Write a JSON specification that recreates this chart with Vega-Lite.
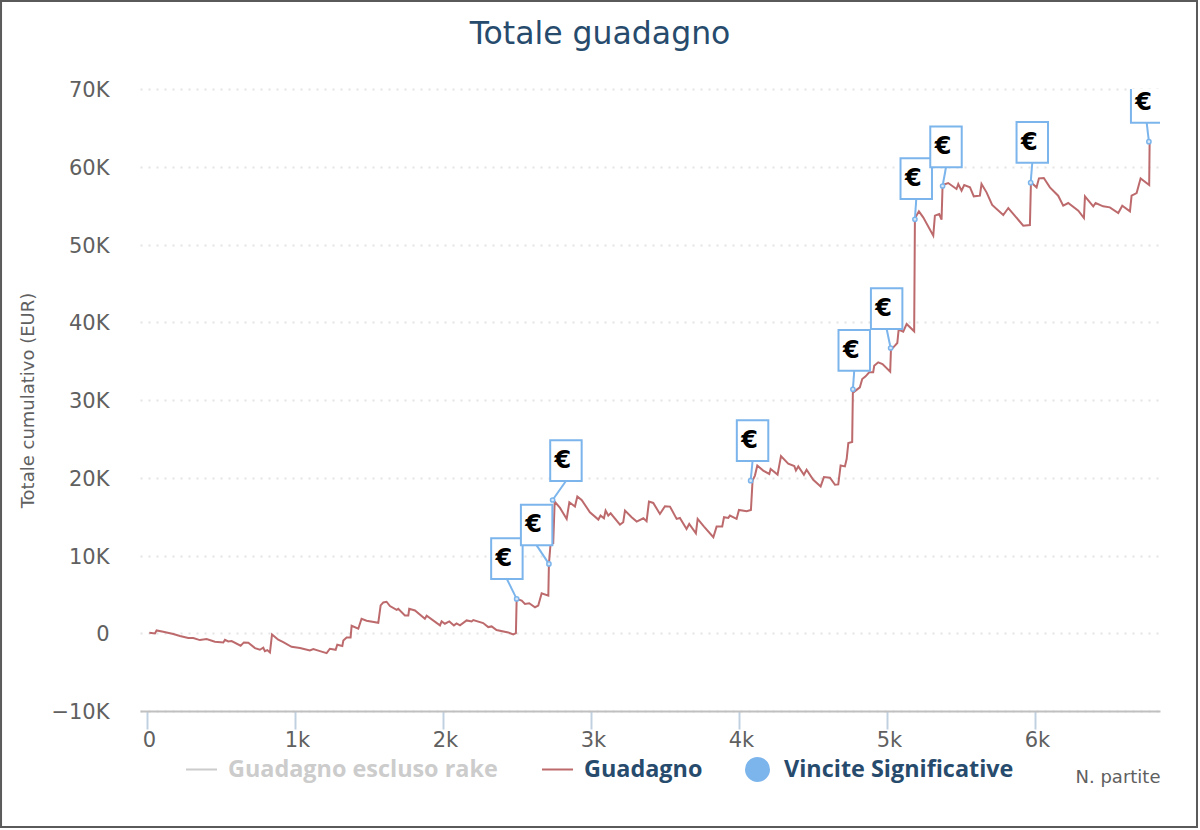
{
  "$schema": "https://vega.github.io/schema/vega-lite/v6.json",
  "description": "Totale guadagno: cumulative winnings over number of games, with significant wins flagged.",
  "width": 1020,
  "height": 622,
  "autosize": {"type": "none"},
  "padding": {"left": 140, "top": 89, "right": 40, "bottom": 119},
  "background": "white",
  "config": {"view": {"stroke": null}},
  "title": {
    "text": "Totale guadagno",
    "anchor": "middle",
    "dx": -50,
    "offset": -50,
    "font": "DejaVu Sans",
    "fontSize": 31.5,
    "fontWeight": "normal",
    "color": "#274b6d"
  },
  "datasets": {
    "guadagno": [
      {"partite": 16, "totale": 60}, {"partite": 54, "totale": -20}, {"partite": 65, "totale": 364}, {"partite": 110, "totale": 193},
      {"partite": 178, "totale": -107}, {"partite": 223, "totale": -364}, {"partite": 279, "totale": -622}, {"partite": 313, "totale": -622},
      {"partite": 358, "totale": -879}, {"partite": 403, "totale": -750}, {"partite": 459, "totale": -1093}, {"partite": 516, "totale": -1179},
      {"partite": 527, "totale": -836}, {"partite": 549, "totale": -1050}, {"partite": 572, "totale": -1007}, {"partite": 633, "totale": -1608},
      {"partite": 655, "totale": -1179}, {"partite": 685, "totale": -1222}, {"partite": 730, "totale": -1908}, {"partite": 763, "totale": -2122},
      {"partite": 786, "totale": -1865}, {"partite": 797, "totale": -2294}, {"partite": 813, "totale": -2165}, {"partite": 831, "totale": -2465},
      {"partite": 845, "totale": -150}, {"partite": 887, "totale": -836}, {"partite": 921, "totale": -1136}, {"partite": 977, "totale": -1736},
      {"partite": 1034, "totale": -1908}, {"partite": 1101, "totale": -2208}, {"partite": 1124, "totale": -2036}, {"partite": 1169, "totale": -2294},
      {"partite": 1214, "totale": -2551}, {"partite": 1236, "totale": -1993}, {"partite": 1275, "totale": -2122}, {"partite": 1286, "totale": -1479},
      {"partite": 1320, "totale": -1650}, {"partite": 1327, "totale": -922}, {"partite": 1349, "totale": -536}, {"partite": 1376, "totale": -536},
      {"partite": 1383, "totale": 965}, {"partite": 1428, "totale": 579}, {"partite": 1450, "totale": 1865}, {"partite": 1484, "totale": 1608},
      {"partite": 1563, "totale": 1350}, {"partite": 1579, "totale": 3580}, {"partite": 1597, "totale": 3965}, {"partite": 1619, "totale": 4051},
      {"partite": 1642, "totale": 3494}, {"partite": 1687, "totale": 3022}, {"partite": 1698, "totale": 3151}, {"partite": 1743, "totale": 2294},
      {"partite": 1766, "totale": 2294}, {"partite": 1772, "totale": 3151}, {"partite": 1811, "totale": 2937}, {"partite": 1878, "totale": 1865},
      {"partite": 1890, "totale": 2251}, {"partite": 1980, "totale": 1007}, {"partite": 1991, "totale": 1522}, {"partite": 2013, "totale": 1222},
      {"partite": 2043, "totale": 1522}, {"partite": 2074, "totale": 1007}, {"partite": 2092, "totale": 1265}, {"partite": 2115, "totale": 1007},
      {"partite": 2160, "totale": 1650}, {"partite": 2194, "totale": 1522}, {"partite": 2205, "totale": 1693}, {"partite": 2272, "totale": 1307},
      {"partite": 2306, "totale": 793}, {"partite": 2329, "totale": 879}, {"partite": 2362, "totale": 407}, {"partite": 2441, "totale": 107},
      {"partite": 2475, "totale": -150}, {"partite": 2493, "totale": 21}, {"partite": 2498, "totale": 4416},
      {"partite": 2532, "totale": 4201}, {"partite": 2554, "totale": 3772}, {"partite": 2583, "totale": 3858}, {"partite": 2622, "totale": 3344},
      {"partite": 2644, "totale": 3558}, {"partite": 2667, "totale": 5144}, {"partite": 2712, "totale": 4844}, {"partite": 2716, "totale": 8917},
      {"partite": 2727, "totale": 11489}, {"partite": 2745, "totale": 11575}, {"partite": 2755, "totale": 16934}, {"partite": 2791, "totale": 16119},
      {"partite": 2836, "totale": 14704}, {"partite": 2854, "totale": 16848}, {"partite": 2892, "totale": 16291}, {"partite": 2908, "totale": 17577},
      {"partite": 2937, "totale": 17148}, {"partite": 2993, "totale": 15562}, {"partite": 3050, "totale": 14619}, {"partite": 3065, "totale": 15133},
      {"partite": 3088, "totale": 14790}, {"partite": 3099, "totale": 15776}, {"partite": 3117, "totale": 15133}, {"partite": 3133, "totale": 15433},
      {"partite": 3196, "totale": 13976}, {"partite": 3218, "totale": 14276}, {"partite": 3230, "totale": 15776}, {"partite": 3275, "totale": 14919},
      {"partite": 3309, "totale": 14361}, {"partite": 3354, "totale": 14790}, {"partite": 3376, "totale": 14404}, {"partite": 3392, "totale": 16934},
      {"partite": 3421, "totale": 16762}, {"partite": 3466, "totale": 15347}, {"partite": 3500, "totale": 16334}, {"partite": 3534, "totale": 16291},
      {"partite": 3579, "totale": 14704}, {"partite": 3601, "totale": 14833}, {"partite": 3646, "totale": 13418}, {"partite": 3664, "totale": 14061},
      {"partite": 3709, "totale": 12861}, {"partite": 3721, "totale": 14704}, {"partite": 3764, "totale": 13718}, {"partite": 3827, "totale": 12347},
      {"partite": 3849, "totale": 13718}, {"partite": 3887, "totale": 13718}, {"partite": 3899, "totale": 14919}, {"partite": 3928, "totale": 14833},
      {"partite": 3939, "totale": 15133}, {"partite": 3984, "totale": 14704}, {"partite": 4000, "totale": 15862}, {"partite": 4052, "totale": 15690},
      {"partite": 4081, "totale": 15862}, {"partite": 4092, "totale": 19634}, {"partite": 4108, "totale": 20277}, {"partite": 4124, "totale": 21564},
      {"partite": 4164, "totale": 20920}, {"partite": 4205, "totale": 20491}, {"partite": 4214, "totale": 21135}, {"partite": 4261, "totale": 20406},
      {"partite": 4284, "totale": 22787}, {"partite": 4333, "totale": 21800}, {"partite": 4374, "totale": 21500}, {"partite": 4385, "totale": 20943},
      {"partite": 4401, "totale": 21458}, {"partite": 4439, "totale": 20386}, {"partite": 4457, "totale": 21029}, {"partite": 4502, "totale": 19743},
      {"partite": 4552, "totale": 18885}, {"partite": 4574, "totale": 20086}, {"partite": 4615, "totale": 20000}, {"partite": 4649, "totale": 19100},
      {"partite": 4671, "totale": 19143}, {"partite": 4687, "totale": 21586}, {"partite": 4716, "totale": 21458}, {"partite": 4728, "totale": 22444},
      {"partite": 4739, "totale": 24458}, {"partite": 4765, "totale": 24587}, {"partite": 4770, "totale": 31372},
      {"partite": 4779, "totale": 31072}, {"partite": 4817, "totale": 31629}, {"partite": 4833, "totale": 32700}, {"partite": 4856, "totale": 33044},
      {"partite": 4880, "totale": 33558}, {"partite": 4907, "totale": 33558}, {"partite": 4914, "totale": 34415}, {"partite": 4941, "totale": 34844},
      {"partite": 4970, "totale": 34630}, {"partite": 5022, "totale": 33644}, {"partite": 5027, "totale": 36473}, {"partite": 5054, "totale": 36988},
      {"partite": 5070, "totale": 37331}, {"partite": 5079, "totale": 39045}, {"partite": 5110, "totale": 38788}, {"partite": 5133, "totale": 39774},
      {"partite": 5184, "totale": 38831}, {"partite": 5189, "totale": 53364}, {"partite": 5216, "totale": 54264}, {"partite": 5245, "totale": 53493},
      {"partite": 5313, "totale": 51135}, {"partite": 5324, "totale": 53707}, {"partite": 5353, "totale": 53922}, {"partite": 5369, "totale": 53193},
      {"partite": 5376, "totale": 57651}, {"partite": 5414, "totale": 57908}, {"partite": 5470, "totale": 57137}, {"partite": 5482, "totale": 57780},
      {"partite": 5504, "totale": 56923}, {"partite": 5522, "totale": 57651}, {"partite": 5561, "totale": 57351}, {"partite": 5587, "totale": 56194},
      {"partite": 5628, "totale": 56279}, {"partite": 5639, "totale": 57780}, {"partite": 5673, "totale": 56708}, {"partite": 5711, "totale": 55079},
      {"partite": 5786, "totale": 53793}, {"partite": 5820, "totale": 54693}, {"partite": 5921, "totale": 52421}, {"partite": 5966, "totale": 52507},
      {"partite": 5973, "totale": 57994}, {"partite": 6011, "totale": 57351}, {"partite": 6027, "totale": 58509}, {"partite": 6060, "totale": 58552},
      {"partite": 6101, "totale": 57351}, {"partite": 6157, "totale": 56279}, {"partite": 6191, "totale": 54993}, {"partite": 6225, "totale": 55336},
      {"partite": 6293, "totale": 54350}, {"partite": 6331, "totale": 53407}, {"partite": 6338, "totale": 56194}, {"partite": 6394, "totale": 54908},
      {"partite": 6410, "totale": 55336}, {"partite": 6461, "totale": 54908}, {"partite": 6506, "totale": 54779}, {"partite": 6563, "totale": 54050},
      {"partite": 6590, "totale": 54993}, {"partite": 6642, "totale": 54264}, {"partite": 6653, "totale": 56279}, {"partite": 6687, "totale": 56622},
      {"partite": 6714, "totale": 58509}, {"partite": 6772, "totale": 57651}, {"partite": 6775, "totale": 63352}
    ],
    "vincite": [
      {"serie": "Vincite Significative", "partite": 2498, "totale": 4416, "flagPartite": 2432, "flagTotale": 6977},
      {"serie": "Vincite Significative", "partite": 2716, "totale": 8917, "flagPartite": 2633, "flagTotale": 11308},
      {"serie": "Vincite Significative", "partite": 2741, "totale": 17138, "flagPartite": 2831, "flagTotale": 19582},
      {"serie": "Vincite Significative", "partite": 4079, "totale": 19619, "flagPartite": 4092, "flagTotale": 22154},
      {"serie": "Vincite Significative", "partite": 4770, "totale": 31372, "flagPartite": 4779, "flagTotale": 33770},
      {"serie": "Vincite Significative", "partite": 5025, "totale": 36688, "flagPartite": 4998, "flagTotale": 39132},
      {"serie": "Vincite Significative", "partite": 5189, "totale": 53238, "flagPartite": 5198, "flagTotale": 55852},
      {"serie": "Vincite Significative", "partite": 5376, "totale": 57524, "flagPartite": 5399, "flagTotale": 59929},
      {"serie": "Vincite Significative", "partite": 5971, "totale": 57949, "flagPartite": 5982, "flagTotale": 60520},
      {"serie": "Vincite Significative", "partite": 6770, "totale": 63225, "flagPartite": 6755, "flagTotale": 65668}
    ]
  },
  "data": {"name": "guadagno"},
  "encoding": {
    "x": {
      "field": "partite",
      "type": "quantitative",
      "scale": {"domain": [-47, 6845], "nice": false, "zero": false},
      "axis": {
        "title": "N. partite",
        "titleAnchor": "end",
        "titleFont": "DejaVu Sans",
        "titleFontSize": 18,
        "titleFontWeight": "normal",
        "titleColor": "#606060",
        "titlePadding": 18,
        "values": [0, 1000, 2000, 3000, 4000, 5000, 6000],
        "labelExpr": "datum.value === 0 ? '0' : (datum.value / 1000) + 'k'",
        "labelFont": "DejaVu Sans",
        "labelFontSize": 21,
        "labelColor": "#606060",
        "labelPadding": 0,
        "labelOffset": 2,
        "tickColor": "#c0d0e0",
        "tickWidth": 2,
        "tickSize": 18,
        "domainColor": "#c0c0c0",
        "domainWidth": 2,
        "grid": false
      }
    },
    "y": {
      "field": "totale",
      "type": "quantitative",
      "scale": {"domain": [-10000, 70000], "nice": false, "zero": false},
      "axis": {
        "title": "Totale cumulativo (EUR)",
        "titleFont": "DejaVu Sans",
        "titleFontSize": 18,
        "titleFontWeight": "normal",
        "titleColor": "#606060",
        "titlePadding": 13,
        "values": [-10000, 0, 10000, 20000, 30000, 40000, 50000, 60000, 70000],
        "labelExpr": "datum.value === 0 ? '0' : (datum.value < 0 ? '−' : '') + abs(datum.value / 1000) + 'K'",
        "labelFont": "DejaVu Sans",
        "labelFontSize": 21,
        "labelColor": "#606060",
        "labelPadding": 31,
        "labelOffset": 1.5,
        "ticks": false,
        "domain": false,
        "grid": true,
        "gridColor": "#e4e4e4",
        "gridWidth": 2,
        "gridDash": [2, 6]
      }
    }
  },
  "layer": [
    {
      "mark": {"type": "line", "color": "#bd6a6d", "strokeWidth": 2, "interpolate": "linear", "clip": true}
    },
    {
      "data": {"name": "vincite"},
      "mark": {"type": "rule", "color": "#7cb5ec", "strokeWidth": 2, "clip": true},
      "encoding": {
        "x2": {"field": "flagPartite"},
        "y2": {"field": "flagTotale"}
      }
    },
    {
      "data": {"name": "vincite"},
      "mark": {"type": "point", "shape": "M-0.75,0V-1.94H0.75V0Z", "size": 1760, "fill": "white", "stroke": "#7cb5ec", "strokeWidth": 2, "opacity": 1, "clip": true},
      "encoding": {
        "x": {"field": "flagPartite", "type": "quantitative"},
        "y": {"field": "flagTotale", "type": "quantitative"}
      }
    },
    {
      "data": {"name": "vincite"},
      "mark": {"type": "text", "text": "€", "font": "DejaVu Sans", "fontWeight": "bold", "fontSize": 24, "color": "black", "dx": -3, "dy": -20, "clip": true},
      "encoding": {
        "x": {"field": "flagPartite", "type": "quantitative"},
        "y": {"field": "flagTotale", "type": "quantitative"}
      }
    },
    {
      "data": {"name": "vincite"},
      "mark": {"type": "point", "filled": false, "fill": "#d8e8f8", "fillOpacity": 1, "strokeWidth": 1.5, "size": 18, "opacity": 1},
      "encoding": {
        "color": {
          "field": "serie",
          "type": "nominal",
          "scale": {
            "domain": ["Guadagno escluso rake", "Guadagno", "Vincite Significative"],
            "range": ["#cccccc", "#bd6a6d", "#7cb5ec"]
          },
          "legend": {
            "title": null,
            "orient": "none",
            "legendX": 49,
            "legendY": 668,
            "direction": "horizontal",
            "columns": 3,
            "columnPadding": 39,
            "symbolSize": 529,
            "symbolStrokeWidth": 2,
            "labelFont": "Open Sans",
            "labelFontSize": 23.4,
            "labelFontWeight": "bold",
            "labelLimit": 400,
            "labelOffset": 14,
            "encoding": {
              "labels": {
                "fill": {
                  "condition": {"test": "datum.value === 'Guadagno escluso rake'", "value": "#cccccc"},
                  "value": "#274b6d"
                }
              },
              "symbols": {
                "fill": {
                  "condition": {"test": "datum.value === 'Vincite Significative'", "value": "#7cb5ec"},
                  "value": "transparent"
                }
              }
            }
          }
        },
        "shape": {
          "field": "serie",
          "type": "nominal",
          "scale": {
            "domain": ["Guadagno escluso rake", "Guadagno", "Vincite Significative"],
            "range": ["M-1.35,0H1.35M-1.35,-1L-1.35,-1M-1.35,1L-1.35,1", "M-1.35,0H1.35M-1.35,-1L-1.35,-1M-1.35,1L-1.35,1", "circle"]
          }
        }
      }
    },
    {
      "data": {"values": [{"left": -986, "right": 7095, "bottom": -24920, "top": 81318}]},
      "mark": {"type": "rect", "fill": "transparent", "stroke": "#5a5a5a", "strokeWidth": 2, "clip": false},
      "encoding": {
        "x": {"field": "left", "type": "quantitative"},
        "x2": {"field": "right"},
        "y": {"field": "bottom", "type": "quantitative"},
        "y2": {"field": "top"}
      }
    }
  ]
}
